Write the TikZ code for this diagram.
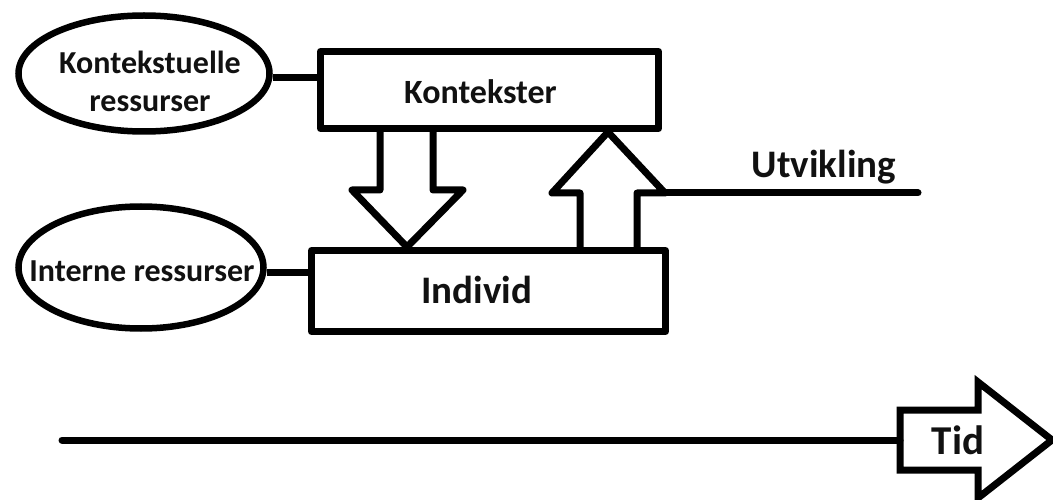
\documentclass[tikz,border=0pt]{standalone}
\usepackage{fontspec}
\setmainfont{Carlito}
\usetikzlibrary{shapes.geometric,calc}
\definecolor{ink}{HTML}{111111}
\tikzset{
  stroke/.style={line width=7pt, draw=black, line join=round},
  blockbox/.style={stroke, rectangle, inner sep=0pt, fill=white},
  resource/.style={line width=6.5pt, draw=black, ellipse, inner sep=0pt, fill=white},
  caption/.style={text=ink, inner sep=0pt, align=center,
                  font=\bfseries\fontsize{#1}{#1}\selectfont},
}
\begin{document}
\begin{tikzpicture}[x=1pt, y=-1pt]
  \useasboundingbox[fill=white] (0,0) rectangle (1053,500);

  % the two main boxes
  \node[blockbox, minimum width=338pt, minimum height=77pt,
        label={[caption=34, xshift=-9pt, yshift=-2pt]center:Kontekster}]
        (kctx) at (489.5,90) {};
  \node[blockbox, minimum width=354pt, minimum height=81pt,
        label={[caption=39, xshift=-12pt, yshift=1pt]center:Individ}]
        (indiv) at (488.5,291) {};

  % resource ellipses
  \node[resource, minimum width=251pt, minimum height=116pt,
        label={[caption=32, xshift=6pt, yshift=-7.5pt,
                font=\bfseries\fontsize{32}{38}\selectfont]center:Kontekstuelle\\ressurser}]
        (kres) at (144,73.5) {};
  \node[resource, minimum width=245pt, minimum height=122pt,
        label={[caption=32, xshift=1pt, yshift=-4pt]center:Interne ressurser}]
        (ires) at (141,267.5) {};

  % links from the ellipses to the boxes
  \draw[stroke] ([yshift=-4.5pt]kres.east) -- ([yshift=-4.5pt]kres.east -| kctx.west);
  \draw[stroke] ([yshift=-4.5pt]ires.east) -- ([yshift=-4.5pt]ires.east -| indiv.west);

  % block arrow: contexts act on the individual
  \draw[stroke]
    (380,0 |- kctx.south) -- (380,190) -- (352,190)
    -- (407,0 |- indiv.north)
    -- (463,190) -- (433,190) -- (433,0 |- kctx.south);

  % block arrow: the individual acts back on the contexts
  \coordinate (wingR) at (665,193);
  \draw[stroke]
    (580,0 |- indiv.north) -- (580,193) -- (552,193)
    -- (608,0 |- kctx.south)
    -- (wingR) -- (637,193) -- (637,0 |- indiv.north);

  % development line
  \coordinate (devEnd) at (918,193);
  \draw[stroke, line cap=round] (wingR) -- (devEnd);
  \node[caption=39] (dev) at (824,167) {Utvikling};

  % time axis
  \node[caption=41] (tid) at (958,440) {Tid};
  \coordinate (tStart) at (62,440);
  \coordinate (tBox) at (900,440);
  \draw[stroke, line cap=round] (tStart) -- (tBox);
  \draw[stroke, line join=miter]
    (978,410) -- (900,410) -- (900,470) -- (978,470) -- (978,498)
    -- (1052,440) -- (978,382) -- cycle;
\end{tikzpicture}
\end{document}
